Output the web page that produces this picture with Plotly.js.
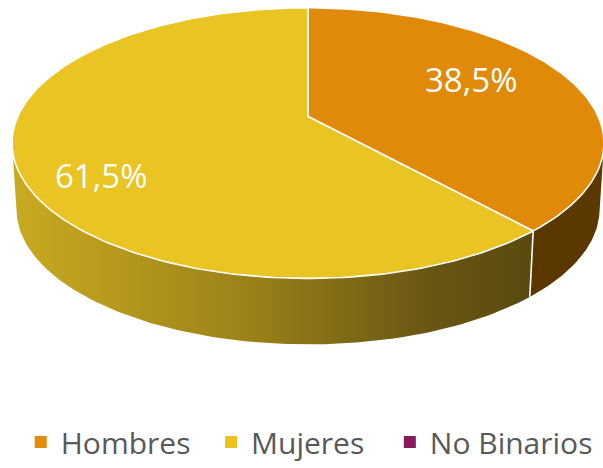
<!DOCTYPE html>
<html><head><meta charset="utf-8">
<script src="https://cdn.plot.ly/plotly-3.0.1.min.js"></script>
<style>html,body{margin:0;padding:0;background:#fff}</style></head>
<body>
<div id="chart" style="width:603px;height:468px"></div>
<script>
// ---- data ----
const labels = ['Hombres', 'Mujeres', 'No Binarios'];
const values = [38.5, 61.5, 0];
const pctText = ['38,5%', '61,5%', ''];
const topColors = ['#E18A0A', '#E9C422', '#861A5C'];
const legendColors = ['#E38B0B', '#EEC21E', '#861A5C'];
const sideColors = ['#5A3800', '#C9A920', '#5A1040'];

// ---- styling / geometry ----
const W = 603, H = 468;
const cx = 308, cy = 147.5, rx = 296, ry = 139.5, cp = -0.197, depth = 68, bottomScale = 0.985;
const FONT = 'Open Sans, DejaVu Sans, sans-serif';
const mujeresGradient = [[0, '#CAAA20'], [0.45, '#9C8219'], [0.8, '#695613'], [1, '#5A4A0F']];
const labelR = 0.65;
const labelShift = [[-6, 8], [-22, -28], [0, 0]];
const legendPad = ['\u00A0\u00A0', '\u00A0\u00A0\u2009', ''];

function proj(thetaDeg, r, z) {
  const t = thetaDeg * Math.PI / 180;
  const u = r * Math.sin(t), w = -r * Math.cos(t);
  const den = 1 + cp * w;
  const wp = (w + cp) / den;
  const up = u * Math.sqrt(1 - cp * cp) / den;
  const s = z > 0 ? bottomScale : 1;
  return [cx + rx * up * s, cy + ry * wp + z];
}
function arc(a0, a1, r, z) {
  const pts = [];
  const n = Math.max(2, Math.ceil(Math.abs(a1 - a0)));
  for (let k = 0; k <= n; k++) pts.push(proj(a0 + (a1 - a0) * k / n, r, z));
  return pts;
}

const total = values.reduce((a, b) => a + b, 0);
const starts = [], ends = [];
let acc = 0;
values.forEach(v => { starts.push(acc / total * 360); acc += v; ends.push(acc / total * 360); });

const visA = Math.acos(cp) * 180 / Math.PI;   // left/right silhouette
const visB = 360 - visA;

const traces = [];
// side walls
values.forEach((v, i) => {
  if (v <= 0) return;
  const a0 = Math.max(starts[i], visA), a1 = Math.min(ends[i], visB);
  if (a1 <= a0) return;
  const top = arc(a0, a1, 1, 0);
  const bot = arc(a0, a1, 1, depth).reverse();
  const pts = top.concat(bot);
  pts.push(top[0]);
  const tr = {
    type: 'scatter', mode: 'lines', x: pts.map(p => p[0]), y: pts.map(p => p[1]),
    fill: 'toself', line: {width: 0, color: sideColors[i]}, fillcolor: sideColors[i],
    showlegend: false, hoverinfo: 'skip'
  };
  if (labels[i] === 'Mujeres') tr.fillgradient = {type: 'horizontal', colorscale: mujeresGradient};
  traces.push(tr);
});
// top faces
values.forEach((v, i) => {
  if (v <= 0) return;
  const pts = [proj(0, 0, 0)].concat(arc(starts[i], ends[i], 1, 0));
  pts.push(proj(0, 0, 0));
  traces.push({
    type: 'scatter', mode: 'lines', x: pts.map(p => p[0]), y: pts.map(p => p[1]),
    fill: 'toself', fillcolor: topColors[i], line: {color: '#FFFFFF', width: 1.6},
    showlegend: false, hoverinfo: 'skip'
  });
});
// wall dividers at slice boundaries
ends.forEach((a, i) => {
  if (values[i] <= 0 || a <= visA || a >= visB) return;
  const p = proj(a, 1, 0), q = proj(a, 1, depth);
  traces.push({type: 'scatter', mode: 'lines', x: [p[0], q[0]], y: [p[1], q[1]],
    line: {color: '#FFFFFF', width: 1.6}, showlegend: false, hoverinfo: 'skip'});
});
// legend entries
labels.forEach((lab, i) => {
  traces.push({type: 'scatter', mode: 'markers', x: [null], y: [null], name: lab + legendPad[i],
    marker: {symbol: 'square', size: 12, color: legendColors[i], line: {width: 0}}, showlegend: true});
});

const annotations = [];
values.forEach((v, i) => {
  if (v <= 0) return;
  const p = proj((starts[i] + ends[i]) / 2, labelR, 0);
  annotations.push({x: p[0], y: p[1], xref: 'x', yref: 'y', text: pctText[i], showarrow: false,
    xshift: labelShift[i][0], yshift: labelShift[i][1],
    font: {family: FONT, size: 33, color: '#FFFFFF'}});
});

const layout = {
  width: W, height: H, margin: {l: 0, r: 0, t: 0, b: 0},
  paper_bgcolor: '#FFFFFF', plot_bgcolor: '#FFFFFF',
  xaxis: {range: [0, W], visible: false, fixedrange: true},
  yaxis: {range: [H, 0], visible: false, fixedrange: true},
  showlegend: true, hovermode: false,
  legend: {orientation: 'h', x: 0.0344, xanchor: 'left', y: 0.0256, yanchor: 'middle',
    font: {family: FONT, size: 30, color: '#595959'}, bgcolor: 'rgba(0,0,0,0)', itemclick: false, itemdoubleclick: false},
  annotations: annotations
};
Plotly.newPlot('chart', traces, layout, {displayModeBar: false, staticPlot: true});
</script>
</body></html>
